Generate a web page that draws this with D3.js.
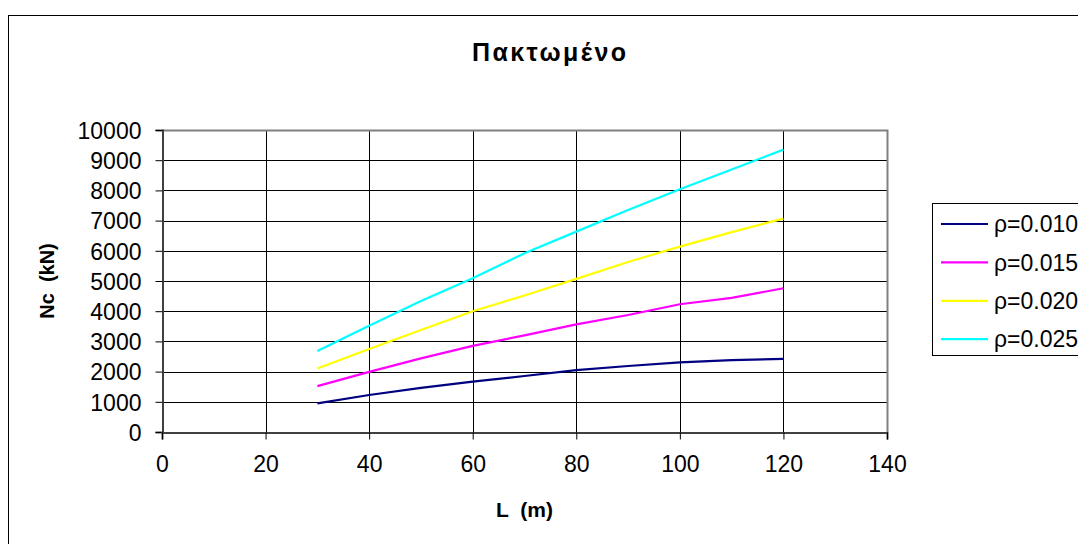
<!DOCTYPE html>
<html>
<head>
<meta charset="utf-8">
<script src="https://cdn.jsdelivr.net/npm/d3@7"></script>
<style>
  html, body { margin: 0; padding: 0; background: #fff; }
  svg { display: block; font-family: "Liberation Sans", Arial, sans-serif; }
</style>
</head>
<body>
<svg id="chart" width="1078" height="544"></svg>
<script>
// Column length L (m)
const lengths = [30, 40, 50, 60, 70, 80, 90, 100, 110, 120];

// Critical load Nc (kN) for each reinforcement ratio
const nc010 = [950, 1225, 1460, 1665, 1855, 2050, 2185, 2305, 2380, 2420];
const nc015 = [1520, 1990, 2440, 2850, 3200, 3565, 3875, 4230, 4440, 4760];
const nc020 = [2100, 2750, 3380, 4000, 4520, 5070, 5630, 6140, 6620, 7065];
const nc025 = [2680, 3520, 4340, 5090, 5920, 6635, 7350, 8035, 8690, 9350];

const seriesNames = ["ρ=0.010", "ρ=0.015", "ρ=0.020", "ρ=0.025"];
const seriesColors = ["#000080", "#FF00FF", "#FFFF00", "#00FFFF"];

const xTicks = [0, 20, 40, 60, 80, 100, 120, 140];
const yTicks = [0, 1000, 2000, 3000, 4000, 5000, 6000, 7000, 8000, 9000, 10000];

const title = "Πακτωμένο";
const xTitle = "L  (m)";
const yTitle = "Nc  (kN)";

const series = [nc010, nc015, nc020, nc025].map((vals, i) => ({
  name: seriesNames[i],
  color: seriesColors[i],
  points: lengths.map((L, j) => ({ L, v: vals[j] }))
}));

const svg = d3.select("#chart");

// Outer chart frame
svg.append("rect")
  .attr("x", 8.5).attr("y", 15.5)
  .attr("width", 1200).attr("height", 700)
  .attr("fill", "#fff").attr("stroke", "#000").attr("stroke-width", 1);

const x = d3.scaleLinear().domain([0, 140]).range([162, 887]);
const y = d3.scaleLinear().domain([0, 10000]).range([432, 130]);

// Horizontal gridlines
svg.append("g")
  .selectAll("line")
  .data(yTicks)
  .join("line")
  .attr("x1", x(0)).attr("x2", x(140))
  .attr("y1", d => Math.round(y(d)) + 0.5).attr("y2", d => Math.round(y(d)) + 0.5)
  .attr("stroke", "#000").attr("stroke-width", 1);

// Vertical gridlines
svg.append("g")
  .selectAll("line")
  .data(xTicks)
  .join("line")
  .attr("x1", d => Math.round(x(d)) + 0.5).attr("x2", d => Math.round(x(d)) + 0.5)
  .attr("y1", y(10000)).attr("y2", y(0))
  .attr("stroke", "#000").attr("stroke-width", 1);

// Plot-area border (top and right)
svg.append("path")
  .attr("d", `M${x(0)},${Math.round(y(10000)) + 0.5}H${Math.round(x(140)) + 0.5}V${y(0)}`)
  .attr("fill", "none").attr("stroke", "#808080").attr("stroke-width", 2);

// Axes
const yAxis = svg.append("g")
  .attr("transform", `translate(${Math.round(x(0)) + 0.5},0)`)
  .call(d3.axisLeft(y).tickValues(yTicks).tickFormat(d3.format("d")).tickSize(7).tickPadding(14));
const xAxis = svg.append("g")
  .attr("transform", `translate(0,${Math.round(y(0)) + 0.5})`)
  .call(d3.axisBottom(x).tickValues(xTicks).tickFormat(d3.format("d")).tickSize(7).tickPadding(16));

[yAxis, xAxis].forEach(g => {
  g.select(".domain").attr("stroke", "#404040").attr("stroke-width", 2);
  g.selectAll(".tick line").attr("stroke", "#000");
  g.selectAll(".tick text")
    .attr("fill", "#000")
    .style("font-family", "'Liberation Sans', Arial, sans-serif")
    .style("font-size", "23px");
});
yAxis.selectAll(".tick text").attr("dy", "0.36em");

// Series lines
const line = d3.line().x(d => x(d.L)).y(d => y(d.v));
svg.append("g")
  .selectAll("path")
  .data(series)
  .join("path")
  .attr("d", d => line(d.points))
  .attr("fill", "none")
  .attr("stroke", d => d.color)
  .attr("stroke-width", 2.2);

// Titles
svg.append("text")
  .attr("x", 549).attr("y", 61)
  .attr("text-anchor", "middle")
  .style("font-size", "25px").style("font-weight", "bold")
  .attr("textLength", 154).attr("lengthAdjust", "spacing")
  .text(title);

svg.append("text")
  .attr("x", x(70)).attr("y", 517)
  .attr("text-anchor", "middle")
  .style("font-size", "21px").style("font-weight", "bold")
  .attr("xml:space", "preserve")
  .text(xTitle);

svg.append("text")
  .attr("transform", `translate(54,${(y(0) + y(10000)) / 2}) rotate(-90)`)
  .attr("text-anchor", "middle")
  .style("font-size", "20px").style("font-weight", "bold")
  .attr("xml:space", "preserve")
  .text(yTitle);

// Legend
const legend = svg.append("g");
legend.append("rect")
  .attr("x", 932.5).attr("y", 203.5)
  .attr("width", 300).attr("height", 152)
  .attr("fill", "#fff").attr("stroke", "#000").attr("stroke-width", 1);

const entries = legend.selectAll("g.entry")
  .data(series)
  .join("g")
  .attr("class", "entry")
  .attr("transform", (d, i) => `translate(0,${224 + i * 38.4})`);
entries.append("line")
  .attr("x1", 941).attr("x2", 988)
  .attr("y1", 0).attr("y2", 0)
  .attr("stroke", d => d.color).attr("stroke-width", 2.2);
entries.append("text")
  .attr("x", 994).attr("y", 0).attr("dy", "0.36em")
  .style("font-size", "23px")
  .text(d => d.name);
</script>
</body>
</html>
